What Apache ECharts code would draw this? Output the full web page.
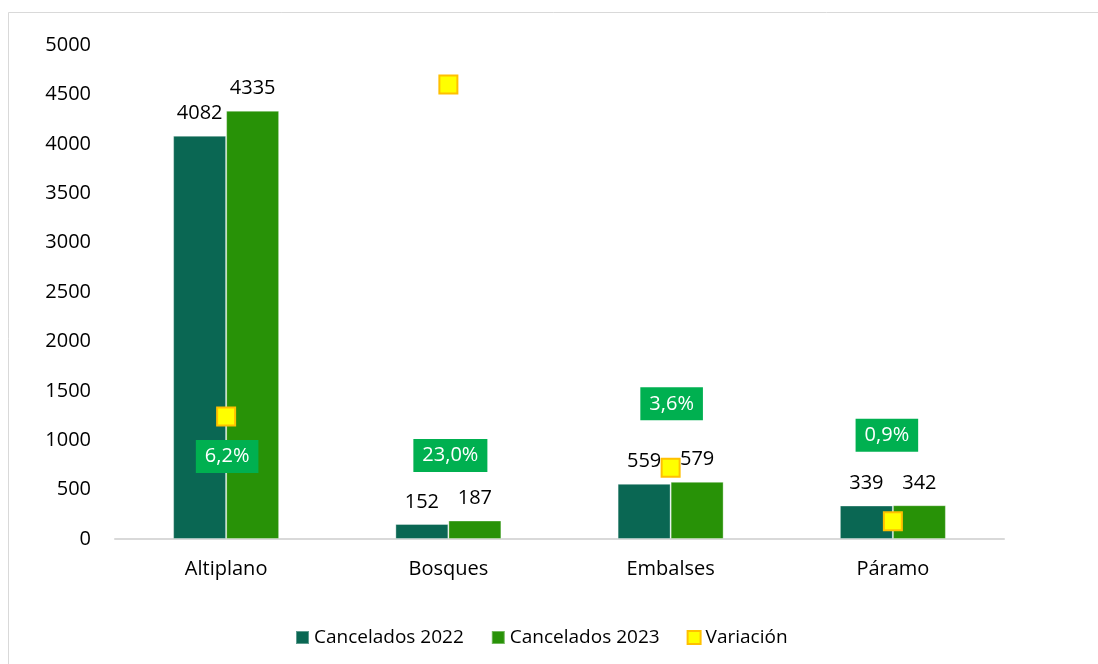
<!DOCTYPE html>
<html>
<head>
    <meta charset="utf-8">
    <script src="https://cdn.jsdelivr.net/npm/echarts@6/dist/echarts.min.js"></script>
    <style>
        html, body { margin: 0; padding: 0; background: #fff; overflow: hidden; }
    </style>
</head>
<body>
<div id="main" style="width: 1098px;height:664px;"></div>
<script type="text/javascript">

  // datos
  var categorias = ['Altiplano', 'Bosques', 'Embalses', 'Páramo'];
  var cancelados2022 = [4082, 152, 559, 339];
  var cancelados2023 = [4335, 187, 579, 342];
  var variacion = [6.2, 23.0, 3.6, 0.9];   // en %
  var ticksY = [0, 500, 1000, 1500, 2000, 2500, 3000, 3500, 4000, 4500, 5000];

  // desplazamiento de las etiquetas de variación (colocadas a mano como en el original)
  var offsetEtiqueta = [[1, 40], [2, 371], [1, -64], [-6, -86]];

  var fuente = '"Open Sans", "Noto Sans", sans-serif';

  var myChart = echarts.init(document.getElementById('main'));

  var option = {
      backgroundColor: '#fff',
      textStyle: { fontFamily: fuente },
      graphic: [{
          type: 'rect',
          shape: { x: 8.5, y: 12.5, width: 1200, height: 800 },
          style: { fill: 'none', stroke: '#d9d9d9', lineWidth: 1 },
          silent: true
      }],
      legend: {
          left: 290,
          top: 623,
          itemWidth: 13,
          itemHeight: 13,
          itemGap: 27,
          textStyle: { fontSize: 19, color: '#000', fontFamily: fuente },
          data: [
              { name: 'Cancelados 2022', icon: 'rect' },
              { name: 'Cancelados 2023', icon: 'rect' },
              { name: 'Variación', icon: 'rect' }
          ]
      },
      grid: {
          left: 115,
          right: 94,
          top: 45,
          bottom: 125
      },
      xAxis: {
          type: 'category',
          data: categorias,
          axisLine: { lineStyle: { color: '#d9d9d9', width: 2 } },
          axisTick: { show: false },
          axisLabel: { fontSize: 20, color: '#000', margin: 20, fontFamily: fuente }
      },
      yAxis: [
          {
              type: 'value',
              min: ticksY[0],
              max: ticksY[ticksY.length - 1],
              interval: ticksY[1] - ticksY[0],
              axisLine: { show: false },
              axisTick: { show: false },
              splitLine: { show: false },
              axisLabel: {
                  fontSize: 20, color: '#000', margin: 24, fontFamily: fuente,
                  formatter: function (v) { return String(v); }
              }
          },
          {
              type: 'value',
              min: 0,
              max: 25,
              show: false,
              splitLine: { show: false }
          }
      ],
      series: [
          {
              name: 'Cancelados 2022',
              type: 'bar',
              data: cancelados2022,
              barWidth: 53,
              barGap: '0%',
              itemStyle: { color: '#0A6753', borderColor: 'rgba(255,255,255,0.35)', borderWidth: 1 },
              label: { show: true, position: 'top', distance: 12, fontSize: 20, color: '#000', fontFamily: fuente }
          },
          {
              name: 'Cancelados 2023',
              type: 'bar',
              data: cancelados2023,
              barWidth: 53,
              itemStyle: { color: '#289207', borderColor: 'rgba(255,255,255,0.35)', borderWidth: 1 },
              label: { show: true, position: 'top', distance: 12, fontSize: 20, color: '#000', fontFamily: fuente }
          },
          {
              name: 'Variación',
              type: 'scatter',
              yAxisIndex: 1,
              symbol: 'rect',
              symbolSize: 18,
              z: 5,
              itemStyle: { color: '#FFFF00', borderColor: '#FFC000', borderWidth: 2, opacity: 1 },
              data: variacion.map(function (v, i) {
                  return {
                      value: v,
                      label: { offset: offsetEtiqueta[i] }
                  };
              }),
              label: {
                  show: true,
                  position: 'inside',
                  fontSize: 20,
                  color: '#fff',
                  fontFamily: fuente,
                  backgroundColor: '#00B050',
                  padding: [7, 9, 6, 9],
                  formatter: function (p) {
                      return p.value.toFixed(1).replace('.', ',') + '%';
                  }
              }
          }
      ]
  };

  myChart.setOption(option);

</script>
</body>
</html>
